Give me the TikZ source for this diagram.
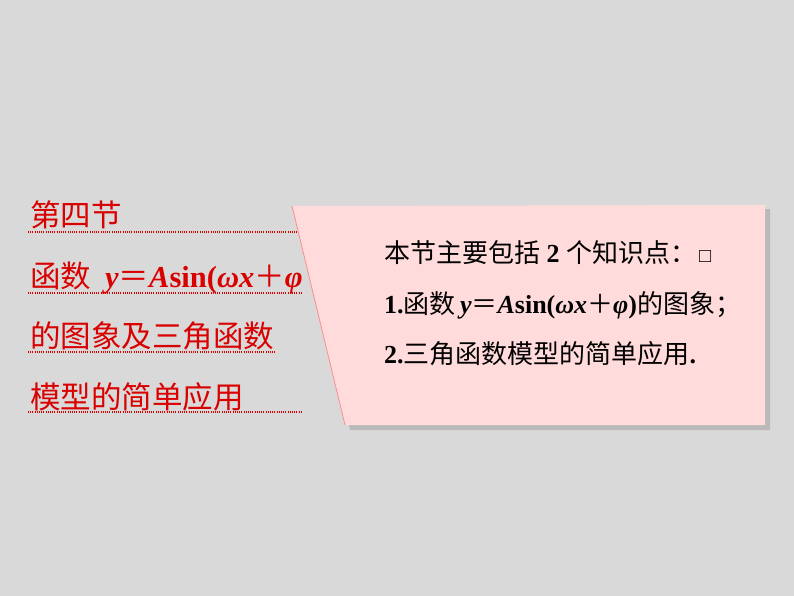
\documentclass[tikz,border=0pt]{standalone}
\usepackage{fontspec}
\setmainfont{Liberation Serif}
\newfontfamily\cjkf{Noto Sans CJK SC}
\newcommand\cjk{\cjkf\mdseries\upshape}
\begin{document}
\begin{tikzpicture}[x=1pt,y=-1pt,
  ttl/.style={anchor=base west,inner sep=0pt,text=red!85!black,font=\fontsize{30.5}{30}\selectfont\bfseries},
  bd/.style={anchor=base west,inner sep=0pt,text=black,font=\fontsize{26}{26}\selectfont\bfseries},
  dl/.style={red!85!black,line width=1.2pt,dash pattern=on 1pt off 1.2pt}]
\fill[gray!30] (0,0) rectangle (794,596);
\useasboundingbox (0,0) rectangle (794,596);
% shadow
\fill[gray!55] (296,210) -- (770,209) -- (770,430) -- (350,430) -- cycle;
\fill[red!14] (292,206) -- (765,205) -- (765,425) -- (345,425) -- cycle;
\draw[red!45,line width=0.8pt] (292,206) -- (345,425);
% title
\node[ttl] (t1) at (30,226) {\cjk 第四节};
\node[ttl] (t2) at (30,287) {{\cjk 函数}\hspace{14pt}\itshape y{\cjk ＝}A\upshape sin(\itshape ωx{\cjk ＋}φ};
\node[ttl] (t3) at (30,347) {\cjk 的图象及三角函数};
\node[ttl] (t4) at (30,408) {\cjk 模型的简单应用};
\draw[dl] (28,232) -- (298,232);
\draw[dl] (28,293) -- (302,293);
\draw[dl] (28,352) -- (275,352);
\draw[dl] (28,412) -- (302,412);
% content
\node[bd] (b1) at (384,262) {{\cjk 本节主要包括} 2 {\cjk 个知识点：}\hspace{3pt}\normalfont\fontsize{20}{20}\selectfont □};
\node[bd] (b2) at (384,313) {1.{\cjk 函数}\,\itshape y{\cjk ＝}A\upshape sin(\itshape ωx{\cjk ＋}φ\upshape ){\cjk 的图象；}};
\node[bd] (b3) at (384,363) {2.{\cjk 三角函数模型的简单应用}.};
\end{tikzpicture}
\end{document}
